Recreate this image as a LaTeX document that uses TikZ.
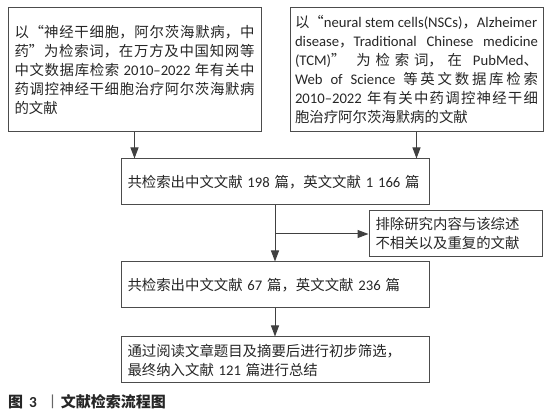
\documentclass[tikz,border=0pt]{standalone}
\usepackage{fontspec}
\setmainfont{Noto Sans CJK SC}
\newfontfamily\en[Scale=1.02]{Carlito}
\usetikzlibrary{arrows.meta, positioning}
\XeTeXlinebreaklocale "zh"
\XeTeXlinebreakskip=0pt plus 1pt

\begin{document}
\begin{tikzpicture}[x=1pt, y=1pt,
          box/.style={draw=black!70, line width=1pt, inner xsep=6pt, inner ysep=4pt,
                      font=\fontsize{14.4}{19}\selectfont, text=black!85},
          flow/.style={draw=black!75, line width=1pt, -{Triangle[length=11pt, width=8pt]}},
          caption/.style={font=\fontsize{15}{18}\selectfont\bfseries, text=black!85}
        ]
        \useasboundingbox (0,0) rectangle (552,420);

        % Suchbegriffe (oben)
        \node[box, minimum width=253pt, minimum height=124pt, text width=240pt, align=justify]
          (cnSearch) at (134.5,350) {以“神经干细胞，阿尔茨海默病，中\linebreak
          药”为检索词，在万方及中国知网等\linebreak
          中文数据库检索 {\en 2010–2022} 年有关中\linebreak
          药调控神经干细胞治疗阿尔茨海默病\linebreak
          的文献};
        \node[box, inner xsep=5pt, minimum width=253pt, minimum height=124pt, text width=243pt, align=justify]
          (enSearch) at (416.5,350) {\mbox{以“{\en neural stem cells(NSCs)}，{\en Alzheimer}}\linebreak
          {\en disease}，{\en Traditional Chinese medicine}\linebreak
          {\en (TCM)}” 为检索词，在 {\en PubMed}、\linebreak
          {\en Web of Science} 等英文数据库检索\linebreak
          {\en 2010–2022} 年有关中药调控神经干细\linebreak
          胞治疗阿尔茨海默病的文献};

        % Ergebnisse
        \node[box, minimum width=308pt, minimum height=46pt, text width=295pt, align=left]
          (found) at (275,238) {共检索出中文文献 {\en 198} 篇，英文文献 {\en 1 166} 篇};
        \node[box, minimum width=173pt, minimum height=46pt, text width=160pt, align=left]
          (excluded) at (455.5,186) {排除研究内容与该综述\\不相关以及重复的文献};
        \node[box, minimum width=308pt, minimum height=46pt, text width=295pt, align=left]
          (kept) at (275,135) {共检索出中文文献 {\en 67} 篇，英文文献 {\en 236} 篇};
        \node[box, minimum width=308pt, minimum height=46pt, text width=295pt, align=left]
          (included) at (275,60) {通过阅读文章题目及摘要后进行初步筛选，\\最终纳入文献 {\en 121} 篇进行总结};

        % Pfeile
        \draw[flow] (cnSearch.south) -- (cnSearch.south |- found.north);
        \draw[flow] (enSearch.south) -- (enSearch.south |- found.north);
        \draw[flow] (found.south) -- (kept.north);
        \coordinate (split) at (found.south |- excluded.west);
        \draw[flow] (split) -- (excluded.west);
        \draw[flow] (kept.south) -- (included.north);

        % Bildunterschrift
        \node[caption, anchor=west, inner sep=0pt] (figCaption) at (8,18)
          {图\hspace{0.4em}{\en 3}\hspace{0.55em}{\mdseries\color{black!60}丨}\hspace{0.05em}文献检索流程图};
\end{tikzpicture}
\end{document}
